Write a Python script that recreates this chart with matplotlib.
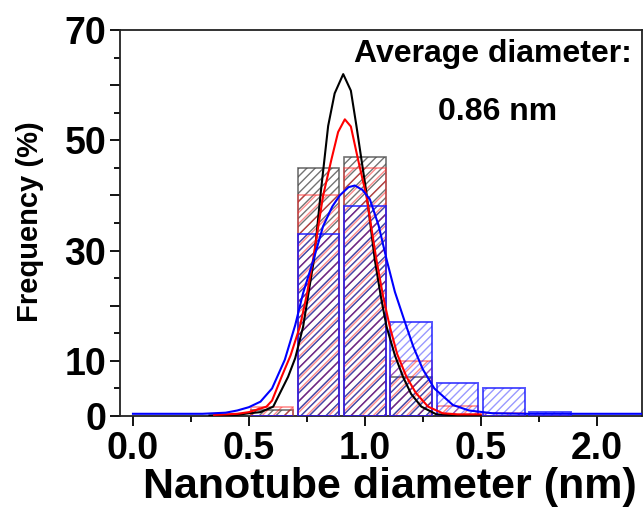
# -*- coding: utf-8 -*-
"""
Гистограмма распределения диаметров нанотрубок + гауссовы огибающие
"""

import matplotlib
matplotlib.use('Agg')
import matplotlib.pyplot as plt
from matplotlib.ticker import MultipleLocator

# центры бинов (нм), ширина бина 0.2
bins = [0.6, 0.8, 1.0, 1.2, 1.4, 1.6, 1.8]
freq_black = [1.0, 45, 47, 7, 0, 0, 0]
freq_red = [1.7, 40, 45, 10, 1.8, 0.6, 0]
freq_blue = [0, 33, 38, 17, 6, 5, 0.7]

# огибающие (сняты по точкам)
fit_black_x = [0.33, 0.45, 0.50, 0.55, 0.605, 0.669, 0.70, 0.734, 0.76, 0.781, 0.81, 0.842, 0.87,
               0.907, 0.94, 0.964, 1.007, 1.043, 1.07, 1.094, 1.13, 1.165, 1.20, 1.244, 1.309, 1.40, 1.50]
fit_black_y = [0.1, 0.2, 0.5, 0.7, 1.7, 7.1, 10.5, 16.2, 23.0, 28.4, 40.5, 52.6, 58.5,
               62.0, 59.0, 52.6, 40.5, 28.4, 21.5, 16.2, 11.0, 7.1, 4.0, 1.7, 0.3, 0.1, 0.1]

fit_red_x = [0.35, 0.45, 0.50, 0.576, 0.60, 0.641, 0.68, 0.72, 0.75, 0.777, 0.82, 0.856, 0.885,
             0.914, 0.94, 0.971, 1.007, 1.05, 1.08, 1.108, 1.14, 1.18, 1.22, 1.273, 1.336, 1.40, 1.50]
fit_red_y = [0.2, 0.4, 0.7, 1.7, 2.8, 7.1, 11.0, 16.2, 22.0, 28.4, 39.9, 46.5, 51.5,
             53.8, 52.5, 46.5, 39.9, 28.4, 21.5, 16.2, 11.2, 7.1, 4.2, 1.7, 0.5, 0.3, 0.3]

fit_blue_x = [0.0, 0.30, 0.40, 0.45, 0.50, 0.55, 0.60, 0.655, 0.70, 0.734, 0.78, 0.82, 0.86, 0.892,
              0.93, 0.957, 0.99, 1.022, 1.06, 1.094, 1.13, 1.175, 1.21, 1.25, 1.30, 1.38, 1.45, 1.55, 1.70, 2.2]
fit_blue_y = [0.4, 0.4, 0.6, 1.0, 1.6, 2.6, 5.0, 10.2, 16.5, 22.3, 28.5, 34.4, 38.0, 40.0,
              41.5, 41.8, 41.0, 39.3, 34.5, 28.4, 22.5, 16.8, 12.5, 8.5, 5.0, 2.0, 1.0, 0.5, 0.4, 0.4]

xticks = [0.0, 0.5, 1.0, 1.5, 2.0]
xticklabels = ['0.0', '0.5', '1.0', '0.5', '2.0']
yticks = [0, 10, 20, 30, 40, 50, 60, 70]
yticklabels = ['0', '10', '', '30', '', '50', '', '70']

if (__name__ == '__main__'):
    plt.rcParams['font.family'] = ['Liberation Sans', 'DejaVu Sans']
    plt.rcParams['font.weight'] = 'bold'
    plt.rcParams['hatch.linewidth'] = 1.0

    fig = plt.figure(figsize=(6.44, 5.08), dpi=100)
    ax = fig.add_axes([120/644, 1 - 416/508, 522/644, 386/508])

    # штриховка отдельно (без контура), контур отдельно
    hatch_style = [
        (freq_black, (0, 0, 0, 0.55), '////', (0.3, 0.3, 0.3, 0.8), 1.2),
        (freq_red, (1, 0, 0, 0.45), '///', (1, 0.2, 0.2, 0.55), 1.2),
        (freq_blue, (0, 0, 1, 0.4), '////', (0.1, 0.1, 1, 0.75), 1.4),
    ]
    z = 2
    for h, hc, hp, ec, lw in hatch_style:
        ax.bar(bins, h, width=0.18, facecolor='none', edgecolor=hc, hatch=hp,
               linewidth=0, zorder=z)
        ax.bar(bins, h, width=0.18, facecolor='none', edgecolor=ec,
               linewidth=lw, zorder=z + 0.5)
        z += 1

    ax.plot(fit_black_x, fit_black_y, color='black', lw=1.5, zorder=6)
    ax.plot(fit_red_x, fit_red_y, color='red', lw=1.5, zorder=7)
    ax.plot(fit_blue_x, fit_blue_y, color='blue', lw=1.5, zorder=8)

    ax.set_xlim(-0.056, 2.196)
    ax.set_ylim(0, 70)

    ax.set_xticks(xticks)
    ax.set_xticklabels(xticklabels)
    ax.set_yticks(yticks)
    ax.set_yticklabels(yticklabels)
    ax.xaxis.set_minor_locator(MultipleLocator(0.25))
    ax.yaxis.set_minor_locator(MultipleLocator(5))
    ax.tick_params(which='major', direction='out', length=7, width=1.3, labelsize=27, pad=3)
    ax.tick_params(which='minor', direction='out', length=4, width=1.3)
    ax.tick_params(axis='x', which='major', pad=4)
    for s in ax.spines.values():
        s.set_linewidth(1.3)
        s.set_color('#222222')

    # подписи осей
    fig.text(390/644, 1 - 498/508, 'Nanotube diameter (nm)', fontsize=31, fontweight='bold',
             ha='center', va='baseline')
    fig.text(30/644, 1 - 222/508, 'Frequency (%)', fontsize=21, fontweight='bold',
             rotation=90, ha='center', va='center')

    fig.text(493/644, 1 - 62/508, 'Average diameter:', fontsize=23, fontweight='bold',
             ha='center', va='baseline')
    fig.text(498/644, 1 - 120/508, '0.86 nm', fontsize=23, fontweight='bold',
             ha='center', va='baseline')

    fig.savefig('out.png', dpi=100)
